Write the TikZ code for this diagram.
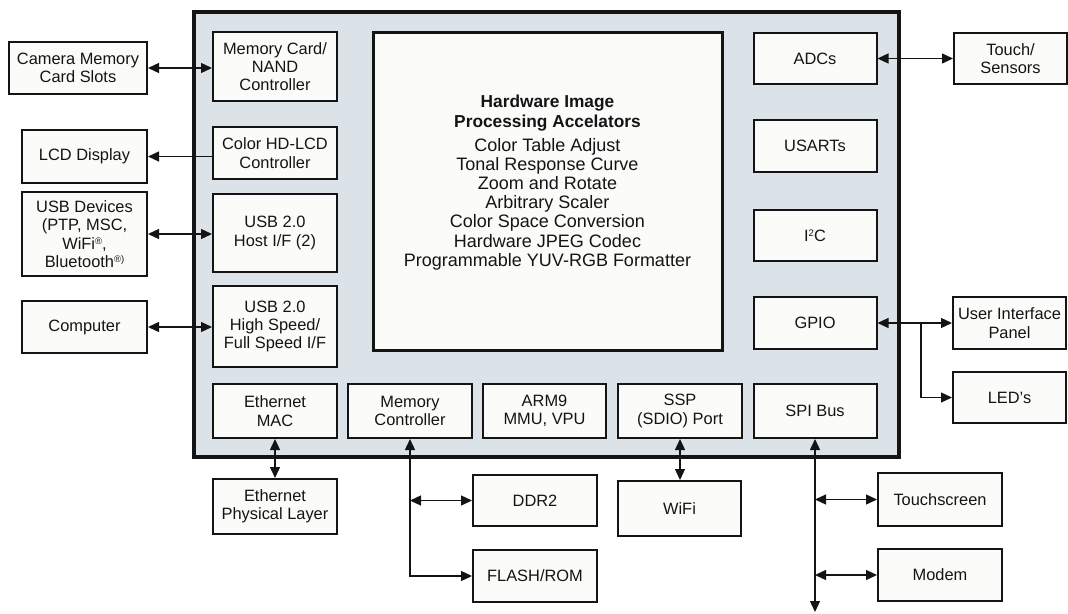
\documentclass[tikz,border=0pt]{standalone}
\usepackage{fontspec}
\setmainfont{Liberation Sans}
\usetikzlibrary{arrows.meta}
\definecolor{chipbg}{HTML}{DCE3E8}
\definecolor{boxfill}{HTML}{FBFBF9}
\definecolor{ink}{HTML}{141414}
\newcommand{\supsm}[1]{\raisebox{0.55ex}{\fontsize{9.5}{9.5}\selectfont #1}}
\begin{document}
\begin{tikzpicture}[x=1pt,y=-1pt,
  blk/.style={draw=ink, line width=2pt, fill=boxfill, align=center, inner sep=1pt,
    font=\fontsize{16.4}{18.3}\selectfont, text=ink},
  chipbox/.style={draw=ink, line width=3.5pt, fill=chipbg, inner sep=0pt},
  conn/.style={draw=ink, line width=1.3pt, >={Triangle[length=11pt,width=10pt]}}]
\useasboundingbox (0,0) rectangle (1068,613);
% chip
\node[chipbox, minimum width=705pt, minimum height=445pt] (chip) at (546.5,234.5) {};
% centre block
\node[blk, line width=3pt, minimum width=349pt, minimum height=318pt] (hip) at (547.5,191) {};
\node[align=center, text=ink, inner sep=0pt, font=\fontsize{17.3}{20}\selectfont\bfseries] (hiptitle) at (547.5,113.5)
  {Hardware Image\\Processing Accelators};
\node[align=center, text=ink, inner sep=0pt, font=\fontsize{18}{19.2}\selectfont] (hiplist) at (547.5,204)
  {Color Table Adjust\\Tonal Response Curve\\Zoom and Rotate\\Arbitrary Scaler\\Color Space Conversion\\Hardware JPEG Codec\\Programmable YUV-RGB Formatter};
% left column inside
\node[blk, minimum width=124pt, minimum height=69pt] (memcard) at (275,66.5) {Memory Card/\\NAND\\Controller};
\node[blk, minimum width=124pt, minimum height=52pt] (lcdctl) at (275,153) {Color HD-LCD\\Controller};
\node[blk, minimum width=124pt, minimum height=78pt] (usbhost) at (275,233) {USB 2.0\\Host I/F (2)};
\node[blk, minimum width=124pt, minimum height=81pt] (usbhs) at (275,326.5) {USB 2.0\\High Speed/\\Full Speed I/F};
% bottom row inside
\node[blk, minimum width=124pt, minimum height=54pt] (ethmac) at (275,411) {Ethernet\\MAC};
\node[blk, minimum width=124pt, minimum height=54pt] (memctl) at (410,411) {Memory\\Controller};
\node[blk, minimum width=123pt, minimum height=54pt] (arm) at (544.5,411) {ARM9\\MMU, VPU};
\node[blk, minimum width=124pt, minimum height=54pt] (ssp) at (680,411) {SSP\\(SDIO) Port};
\node[blk, minimum width=123pt, minimum height=54pt] (spi) at (815,411) {SPI Bus};
% right column inside
\node[blk, minimum width=123pt, minimum height=51pt] (adcs) at (815,58.5) {ADCs};
\node[blk, minimum width=123pt, minimum height=52pt] (usarts) at (815,146) {USARTs};
\node[blk, minimum width=123pt, minimum height=51pt] (iic) at (815,235.5) {I\supsm{2}C};
\node[blk, minimum width=123pt, minimum height=52pt] (gpio) at (815,323) {GPIO};
% outside left
\node[blk, minimum width=138pt, minimum height=52pt] (cam) at (78,68) {Camera Memory\\Card Slots};
\node[blk, minimum width=125pt, minimum height=53pt] (lcd) at (84.5,156.5) {LCD Display};
\node[blk, minimum width=125pt, minimum height=84pt] (usbdev) at (84.5,234) {USB Devices\\(PTP, MSC,\\WiFi\supsm{®},\\Bluetooth\supsm{®)}};
\node[blk, minimum width=125pt, minimum height=52pt] (comp) at (84.5,327) {Computer};
% outside right
\node[blk, minimum width=113pt, minimum height=51pt] (touch) at (1010.5,58.5) {Touch/\\Sensors};
\node[blk, minimum width=113pt, minimum height=52pt] (ui) at (1009.5,323) {User Interface\\Panel};
\node[blk, minimum width=113pt, minimum height=51pt] (leds) at (1009.5,397.5) {LED’s};
% outside bottom
\node[blk, minimum width=124pt, minimum height=55pt] (ethphy) at (275,506.5) {Ethernet\\Physical Layer};
\node[blk, minimum width=124pt, minimum height=51pt] (ddr) at (535,500.5) {DDR2};
\node[blk, minimum width=124pt, minimum height=52pt] (flash) at (535,576) {FLASH/ROM};
\node[blk, minimum width=123pt, minimum height=55pt] (wifi) at (679.5,508.5) {WiFi};
\node[blk, minimum width=124pt, minimum height=53pt] (tscr) at (940,499.5) {Touchscreen};
\node[blk, minimum width=124pt, minimum height=52pt] (modem) at (940,575) {Modem};
% helper coordinates
\coordinate (gpbr) at (921,323);
\coordinate (mcddr) at (410,500.5);
\coordinate (spiend) at (815,612);
\coordinate (spits) at (815,499.5);
\coordinate (spimd) at (815,575);
% connectors
\draw[conn,<->] (cam.east) -- (cam.east -| memcard.west);
\draw[conn,->] (lcdctl.west |- lcd.east) -- (lcd.east);
\draw[conn,<->] (usbdev.east) -- (usbdev.east -| usbhost.west);
\draw[conn,<->] (comp.east) -- (comp.east -| usbhs.west);
\draw[conn,<->] (adcs.east) -- (adcs.east -| touch.west);
\draw[conn,<->] (gpio.east) -- (ui.west);
\draw[conn,->] (gpbr) |- (leds.west);
\draw[conn,<->] (ethmac.south) -- (ethmac.south |- ethphy.north);
\draw[conn,<->] (memctl.south) |- (flash.west);
\draw[conn,<->] (mcddr) -- (ddr.west);
\draw[conn,<->] (ssp.south) -- (ssp.south |- wifi.north);
\draw[conn,<->] (spi.south) -- (spiend);
\draw[conn,<->] (spits) -- (tscr.west);
\draw[conn,<->] (spimd) -- (modem.west);
\end{tikzpicture}
\end{document}
